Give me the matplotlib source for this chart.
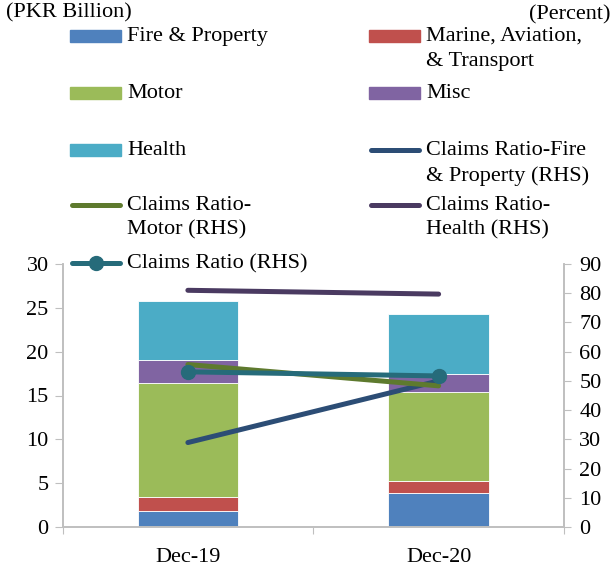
import numpy as np
import matplotlib.pyplot as plt
from matplotlib.patches import Rectangle
from matplotlib.lines import Line2D

plt.rcParams['font.family'] = ['Liberation Serif', 'DejaVu Serif']
plt.rcParams['font.size'] = 16

# data (PKR billion, stacked) and claims ratios (percent, RHS)
periods = ['Dec-19', 'Dec-20']
fire = [1.85, 3.85]
marine = [1.55, 1.35]
motor = [13.05, 10.15]
misc = [2.65, 2.15]
health = [6.7, 6.75]

cr_fire = [28.9, 50.0]
cr_motor = [55.6, 48.3]
cr_health = [81.0, 79.7]
cr_total = [53.1, 51.7]

bar_cols = ['#4F81BD', '#C0504D', '#9BBB59', '#8064A2', '#4BACC6']
line_cols = ['#2C4D75', '#5E7A2E', '#4A3A61', '#266B7A']
grey = '#BFBFBF'

W, H = 613, 572
fig = plt.figure(figsize=(W / 100, H / 100), dpi=100)
ax = fig.add_axes([62.5 / W, 1 - 527 / H, (564 - 62.5) / W, (527 - 264) / H])
ax2 = ax.twinx()

x = np.arange(len(periods))
bottom = np.zeros(len(periods))
for vals, c in zip([fire, marine, motor, misc, health], bar_cols):
    ax.bar(x, vals, 0.4, bottom=bottom, color=c, edgecolor='white', linewidth=0.6)
    bottom += np.array(vals)

for vals, c in zip([cr_fire, cr_motor, cr_health], line_cols[:3]):
    ax2.plot(x, vals, color=c, lw=3.6, solid_capstyle='round')
ax2.plot(x, cr_total, color=line_cols[3], lw=3.6, marker='o', ms=10,
         solid_capstyle='round')

ax.set_xlim(-0.5, 1.5)
ax.set_ylim(0, 30)
ax.set_yticks(np.arange(0, 31, 5))
ax2.set_ylim(0, 90)
ax2.set_yticks(np.arange(0, 91, 10))

ax.set_xticks([-0.5, 0.5, 1.5])
ax.set_xticklabels([])
ax.set_xticks(x, minor=True)
ax.set_xticklabels(periods, minor=True)
ax.tick_params(axis='x', which='major', length=5, color=grey, direction='out')
ax.tick_params(axis='x', which='minor', length=0, pad=15)
ax.tick_params(axis='y', length=6, color=grey, pad=4)
ax2.tick_params(axis='y', length=5, color=grey, pad=6)

for a in (ax, ax2):
    a.spines['top'].set_visible(False)
    for s in ('left', 'right', 'bottom'):
        a.spines[s].set_color(grey)
        a.spines[s].set_linewidth(1.2)
    a.set_facecolor('none')

fig.text(6 / W, 1 - 13 / H, '(PKR Billion)', ha='left', va='center')
fig.text(611 / W, 1 - 15 / H, '(Percent)', ha='right', va='center')

# legend laid out like the Excel one (row-major, two columns)
labels = ['Fire & Property', 'Marine, Aviation,\n& Transport', 'Motor', 'Misc', 'Health',
          'Claims Ratio-Fire\n& Property (RHS)', 'Claims Ratio-\nMotor (RHS)',
          'Claims Ratio-\nHealth (RHS)', 'Claims Ratio (RHS)']
kinds = ['bar'] * 5 + ['line'] * 4
colors = bar_cols + [line_cols[0], line_cols[1], line_cols[2], line_cols[3]]
row_y = [36, 93, 150, 205, 263]
col_x = [70, 369]
for i, (lab, kind, c) in enumerate(zip(labels, kinds, colors)):
    r, k = divmod(i, 2)
    y = row_y[r]
    x0 = col_x[k]
    if kind == 'bar':
        fig.patches.append(Rectangle((x0 / W, 1 - (y + 6) / H), 51 / W, 12 / H,
                                     transform=fig.transFigure, color=c))
    else:
        fig.add_artist(Line2D([(x0 + 2) / W, (x0 + 50) / W], [1 - y / H, 1 - y / H],
                              transform=fig.transFigure, color=c, lw=3.6,
                              solid_capstyle='round'))
        if i == 8:
            fig.add_artist(Line2D([(x0 + 26) / W], [1 - y / H], transform=fig.transFigure,
                                  color=c, marker='o', ms=10))
    fig.text((x0 + 57) / W, 1 - (y - 9) / H, lab, ha='left', va='top',
             linespacing=1.4)

fig.savefig('out.png', dpi=100)
